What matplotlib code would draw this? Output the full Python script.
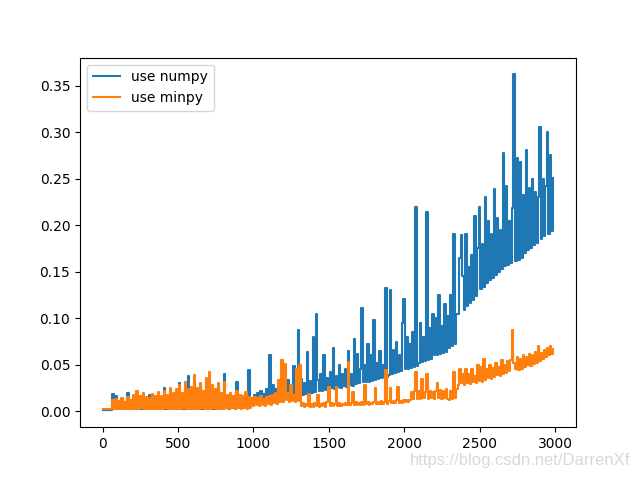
import matplotlib
matplotlib.use("Agg")
import matplotlib.pyplot as plt
import numpy as np

# x positions (matrix size), step 10
x_values = list(range(0, 3000, 10))

numpy_times = [
    .001, .001, .001, .001, .001, .001, .001, .019, .003, .017,
    .002, .010, .002, .012, .002, .009, .003, .020, .002, .011,
    .002, .015, .003, .018, .002, .014, .003, .017, .002, .013,
    .003, .018, .002, .015, .002, .016, .003, .012, .002, .015,
    .002, .025, .003, .017, .002, .020, .003, .018, .002, .021,
    .003, .030, .002, .018, .003, .026, .002, .038, .003, .022,
    .002, .030, .003, .022, .002, .026, .003, .020, .002, .030,
    .003, .035, .002, .024, .003, .022, .002, .026, .003, .018,
    .003, .040, .004, .016, .003, .018, .004, .014, .003, .031,
    .004, .016, .005, .014, .004, .019, .005, .044, .008, .012,
    .010, .018, .011, .020, .010, .022, .012, .019, .011, .024,
    .012, .061, .012, .028, .013, .024, .013, .030, .014, .026,
    .014, .030, .015, .034, .015, .028, .016, .049, .016, .032,
    .087, .018, .035, .018, .030, .019, .064, .019, .033, .020,
    .080, .021, .105, .034, .022, .040, .022, .060, .023, .036,
    .024, .042, .025, .068, .024, .038, .026, .050, .025, .040,
    .027, .045, .026, .065, .028, .040, .027, .078, .029, .062,
    .030, .046, .111, .031, .050, .032, .072, .031, .060, .033,
    .098, .034, .052, .035, .065, .036, .050, .036, .132, .037,
    .039, .130, .040, .066, .041, .075, .042, .060, .043, .095,
    .121, .045, .080, .046, .072, .047, .085, .048, .219, .049,
    .052, .095, .053, .080, .054, .214, .055, .090, .056, .105,
    .060, .100, .061, .125, .062, .092, .063, .115, .064, .102,
    .068, .125, .070, .190, .072, .105, .105, .165, .189, .145,
    .109, .190, .113, .155, .116, .168, .120, .210, .124, .175,
    .219, .131, .180, .134, .230, .138, .205, .141, .190, .143,
    .239, .146, .208, .150, .195, .153, .278, .156, .242, .157,
    .205, .159, .218, .362, .161, .272, .163, .268, .165, .232,
    .170, .281, .173, .240, .176, .250, .179, .236, .181, .230,
    .305, .185, .250, .188, .242, .300, .191, .275, .194, .251,
]

minpy_times = [
    .002, .002, .002, .002, .002, .002, .002, .012, .002, .013,
    .002, .011, .003, .014, .002, .010, .002, .015, .003, .012,
    .002, .018, .003, .022, .002, .016, .004, .020, .002, .015,
    .003, .014, .002, .019, .003, .017, .002, .021, .003, .016,
    .002, .022, .004, .018, .002, .025, .003, .020, .002, .024,
    .003, .028, .002, .020, .004, .031, .002, .024, .003, .026,
    .002, .039, .003, .025, .002, .030, .004, .022, .002, .036,
    .003, .042, .002, .028, .004, .024, .002, .030, .003, .020,
    .003, .032, .004, .018, .003, .020, .004, .016, .003, .022,
    .004, .018, .003, .016, .004, .021, .003, .015, .004, .014,
    .006, .015, .007, .014, .006, .016, .007, .013, .006, .015,
    .008, .017, .007, .018, .009, .020, .008, .034, .010, .055,
    .010, .051, .012, .020, .010, .028, .011, .018, .010, .045,
    .011, .050, .006, .009, .005, .008, .006, .019, .005, .008,
    .005, .009, .006, .018, .005, .008, .006, .009, .005, .010,
    .026, .006, .009, .006, .008, .026, .006, .009, .006, .008,
    .007, .009, .007, .053, .007, .009, .021, .007, .010, .007,
    .009, .007, .010, .007, .028, .008, .010, .007, .009, .008,
    .010, .025, .008, .010, .008, .011, .008, .010, .044, .008,
    .011, .025, .009, .011, .009, .012, .026, .009, .011, .009,
    .012, .010, .012, .010, .012, .021, .013, .022, .042, .013,
    .022, .013, .035, .014, .021, .040, .013, .022, .014, .021,
    .013, .022, .030, .014, .023, .013, .022, .014, .024, .013,
    .012, .022, .013, .042, .014, .024, .028, .045, .030, .040,
    .028, .045, .030, .040, .029, .046, .031, .038, .030, .050,
    .033, .048, .032, .056, .034, .045, .036, .050, .035, .047,
    .037, .052, .039, .048, .038, .055, .040, .050, .041, .054,
    .043, .055, .087, .052, .045, .058, .044, .056, .046, .060,
    .048, .058, .050, .062, .049, .060, .051, .064, .052, .070,
    .054, .063, .056, .066, .058, .068, .060, .070, .062, .067,
]

series_labels = ["use numpy", "use minpy"]

fig, ax = plt.subplots(figsize=(6.4, 4.8), dpi=100)
ax.plot(x_values, numpy_times, label=series_labels[0], drawstyle="steps-mid")
ax.plot(x_values, minpy_times, label=series_labels[1], drawstyle="steps-mid")
ax.legend(loc="upper left")

fig.text(0.985, 0.04, "https://blog.csdn.net/DarrenXf", ha="right", va="center",
         fontsize=12, color="#d9d9d9", family="Liberation Sans")

fig.savefig("out.png", dpi=100)
